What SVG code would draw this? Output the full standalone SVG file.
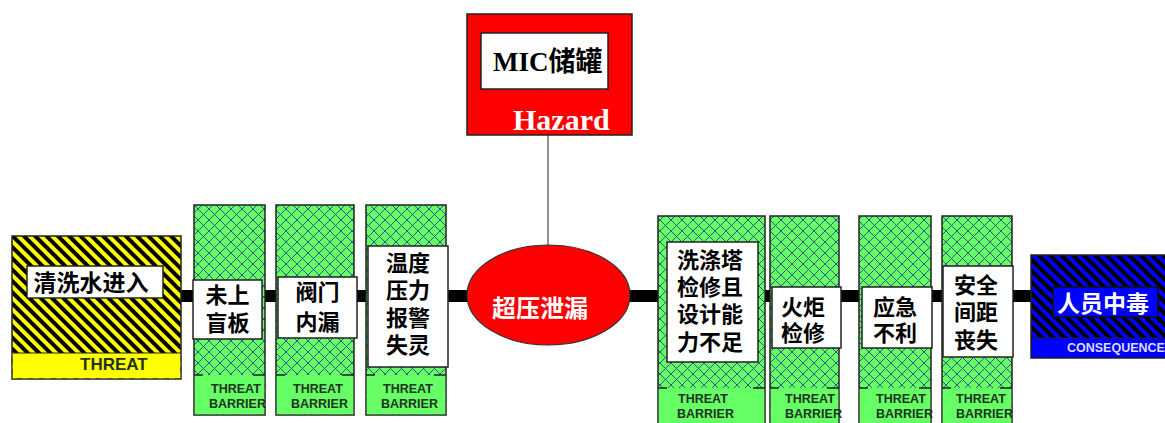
<svg xmlns="http://www.w3.org/2000/svg" width="1165" height="423" viewBox="0 0 1165 423">
<defs>
<pattern id="hatch" patternUnits="userSpaceOnUse" width="11" height="11">
<rect width="11" height="11" fill="#66ff66"/>
<path d="M0,0 L11,11 M11,0 L0,11" stroke="#2e5a8a" stroke-width="1"/>
</pattern>
<pattern id="ystripe" patternUnits="userSpaceOnUse" width="8" height="8" patternTransform="rotate(-45)">
<rect width="8" height="8" fill="#ffff00"/>
<rect width="4" height="8" fill="#000"/>
</pattern>
<pattern id="bstripe" patternUnits="userSpaceOnUse" width="8" height="8" patternTransform="rotate(-45)">
<rect width="8" height="8" fill="#0000ff"/>
<rect width="4" height="8" fill="#000"/>
</pattern>
<style>
.hb{fill:url(#hatch);stroke:#222;stroke-width:1.5}
.band{fill:#66ff66}
.tick{stroke:#222;stroke-width:1.5}
.lbl{fill:#fff;stroke:#222;stroke-width:1.5}
.cn{font-family:"Noto Sans CJK SC",sans-serif;font-size:22px;font-weight:700;fill:#000;text-anchor:middle}
.tb{font-family:"Liberation Sans",Arial,sans-serif;font-weight:700;font-size:12.5px;fill:#1d331d}
</style>
</defs>
<rect width="1165" height="423" fill="#fff"/>

<g id="connectors">
<line x1="181" y1="296" x2="1032" y2="296" stroke="#000" stroke-width="12"/>
<line x1="548" y1="135" x2="548" y2="246" stroke="#222" stroke-width="1"/>
</g>

<g id="threat">
<rect x="12" y="236" width="169" height="143" fill="url(#ystripe)" stroke="#222" stroke-width="1.5"/>
<rect x="12.75" y="353" width="167.5" height="25.25" fill="#ffff00"/>
<line x1="12" y1="353" x2="181" y2="353" stroke="#222" stroke-width="1"/>
<rect x="27" y="266" width="136" height="32" class="lbl"/>
<text x="91" y="291" class="cn" style="font-size:23px">清洗水进入</text>
<text x="80" y="370" font-family="Liberation Sans, Arial, sans-serif" font-weight="700" font-size="17" fill="#1d331d">THREAT</text>
</g>

<g id="barrier1">
<rect x="194" y="205" width="71" height="210" class="hb"/>
<rect x="194.75" y="375" width="69.5" height="39.25" class="band"/>
<path d="M194,375 h9 M265,375 h-12" class="tick"/>
<rect x="193" y="280" width="69" height="59" class="lbl"/>
<text class="cn"><tspan x="227.5" y="303">未上</tspan><tspan x="227.5" y="331">盲板</tspan></text>
<text class="tb"><tspan x="211" y="393">THREAT</tspan><tspan x="209" y="408">BARRIER</tspan></text>
</g>

<g id="barrier2">
<rect x="276" y="205" width="78" height="210" class="hb"/>
<rect x="276.75" y="375" width="76.5" height="39.25" class="band"/>
<path d="M276,375 h9 M354,375 h-12" class="tick"/>
<rect x="278" y="277" width="79" height="61" class="lbl"/>
<text class="cn"><tspan x="317.5" y="300">阀门</tspan><tspan x="317.5" y="330">内漏</tspan></text>
<text class="tb"><tspan x="293" y="393">THREAT</tspan><tspan x="291" y="408">BARRIER</tspan></text>
</g>

<g id="barrier3">
<rect x="366" y="205" width="80" height="210" class="hb"/>
<rect x="366.75" y="375" width="78.5" height="39.25" class="band"/>
<path d="M366,375 h9 M446,375 h-12" class="tick"/>
<rect x="368" y="246" width="80" height="121" class="lbl"/>
<text class="cn"><tspan x="408" y="271">温度</tspan><tspan x="408" y="298">压力</tspan><tspan x="408" y="326">报警</tspan><tspan x="408" y="353">失灵</tspan></text>
<text class="tb"><tspan x="383" y="393">THREAT</tspan><tspan x="381" y="408">BARRIER</tspan></text>
</g>

<g id="hazard">
<rect x="467" y="14" width="165" height="121" fill="#ff0000" stroke="#222" stroke-width="1.5"/>
<rect x="481" y="33" width="127" height="56" class="lbl"/>
<text x="493" y="71" font-size="27" font-weight="700" fill="#000"><tspan font-family="Liberation Serif, Times New Roman, serif">MIC</tspan><tspan font-family="Noto Sans CJK SC, sans-serif">储罐</tspan></text>
<text x="513" y="130" font-family="Liberation Serif, Times New Roman, serif" font-size="30" font-weight="700" fill="#fff">Hazard</text>
</g>

<g id="top-event">
<ellipse cx="548.5" cy="295" rx="81.5" ry="50" fill="#ff0000" stroke="#333" stroke-width="1.2"/>
<text x="540" y="317" class="cn" style="fill:#fff;font-size:24px">超压泄漏</text>
</g>

<g id="barrier4">
<rect x="658" y="216" width="107" height="215" class="hb"/>
<rect x="658.75" y="388" width="105.5" height="40" class="band"/>
<path d="M658,388 h9 M765,388 h-12" class="tick"/>
<rect x="667" y="242" width="91" height="120" class="lbl"/>
<text class="cn"><tspan x="710" y="268">洗涤塔</tspan><tspan x="710" y="295">检修且</tspan><tspan x="710" y="322">设计能</tspan><tspan x="710" y="350">力不足</tspan></text>
<text class="tb"><tspan x="678" y="403">THREAT</tspan><tspan x="677" y="418">BARRIER</tspan></text>
</g>

<g id="barrier5">
<rect x="770" y="216" width="69" height="215" class="hb"/>
<rect x="770.75" y="388" width="67.5" height="40" class="band"/>
<path d="M770,388 h9 M839,388 h-12" class="tick"/>
<rect x="772" y="287" width="69" height="61" class="lbl"/>
<text class="cn"><tspan x="803" y="315">火炬</tspan><tspan x="803" y="341">检修</tspan></text>
<text class="tb"><tspan x="785" y="403">THREAT</tspan><tspan x="785" y="418">BARRIER</tspan></text>
</g>

<g id="barrier6">
<rect x="859" y="216" width="72" height="215" class="hb"/>
<rect x="859.75" y="388" width="70.5" height="40" class="band"/>
<path d="M859,388 h9 M931,388 h-12" class="tick"/>
<rect x="862" y="287" width="70" height="61" class="lbl"/>
<text class="cn"><tspan x="895" y="315">应急</tspan><tspan x="895" y="341">不利</tspan></text>
<text class="tb"><tspan x="876" y="403">THREAT</tspan><tspan x="876" y="418">BARRIER</tspan></text>
</g>

<g id="barrier7">
<rect x="942" y="216" width="70" height="215" class="hb"/>
<rect x="942.75" y="388" width="68.5" height="40" class="band"/>
<path d="M942,388 h9 M1012,388 h-12" class="tick"/>
<rect x="943" y="266" width="70" height="91" class="lbl"/>
<text class="cn"><tspan x="976" y="293">安全</tspan><tspan x="976" y="320">间距</tspan><tspan x="976" y="348">丧失</tspan></text>
<text class="tb"><tspan x="956" y="403">THREAT</tspan><tspan x="956" y="418">BARRIER</tspan></text>
</g>

<g id="consequence">
<rect x="1031" y="255" width="145" height="103" fill="url(#bstripe)" stroke="#222" stroke-width="1.5"/>
<rect x="1031.75" y="338" width="140" height="19.25" fill="#0000ff"/>
<line x1="1031" y1="338" x2="1165" y2="338" stroke="#222" stroke-width="1"/>
<rect x="1053" y="287" width="105" height="30" fill="#0000ff" stroke="#111" stroke-width="1.5"/>
<text x="1103" y="312" class="cn" style="fill:#fff;font-size:23px">人员中毒</text>
<text x="1067" y="352" font-family="Liberation Sans, Arial, sans-serif" font-weight="700" font-size="12.5" fill="#ddddff">CONSEQUENCE</text>
</g>
</svg>
